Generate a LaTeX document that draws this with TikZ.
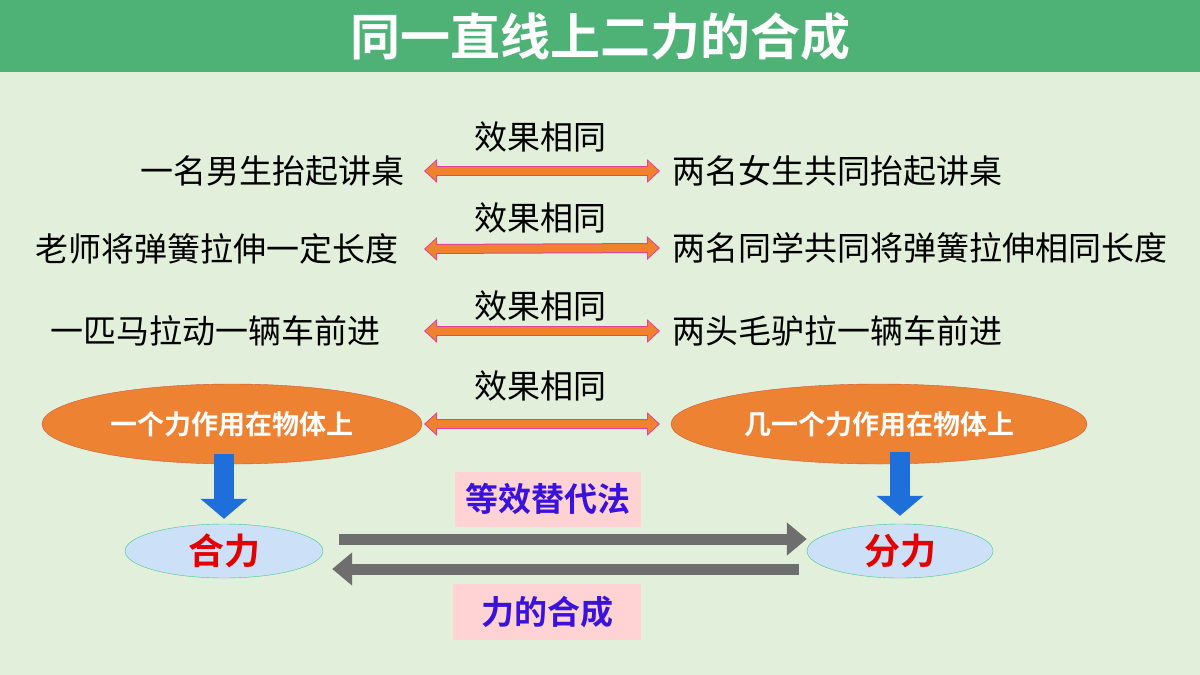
\documentclass[tikz,border=0pt]{standalone}
\usepackage{fontspec}
\setmainfont{Noto Sans CJK SC}[BoldFont={Noto Sans CJK SC Bold}]
\usetikzlibrary{shapes.geometric,arrows.meta}

\definecolor{bggreen}{HTML}{E2EFDA}
\definecolor{bargreen}{HTML}{4EB277}
\definecolor{effectfill}{HTML}{F0822E}
\definecolor{effectline}{HTML}{E040A0}
\definecolor{ovalorange}{HTML}{EE8233}
\definecolor{ovalline}{HTML}{D0583A}
\definecolor{downblue}{HTML}{1E6FD9}
\definecolor{paleblue}{HTML}{CCE0F7}
\definecolor{ovalgreen}{HTML}{3CCB8A}
\definecolor{methodpink}{HTML}{FFD3D3}
\definecolor{methodblue}{HTML}{3A12DE}
\definecolor{arrowgray}{HTML}{6E6E6E}

\newcommand{\bodysize}{\fontsize{33}{38}\selectfont}

\tikzset{
  caseText/.style={font=\bodysize, inner sep=0pt, anchor=west},
  sameText/.style={font=\bodysize, inner sep=0pt},
  bigOval/.style={ellipse, fill=ovalorange, draw=ovalline, thin, minimum height=80pt,
    text=white, font=\fontsize{27}{30}\selectfont\bfseries, inner sep=0pt},
  smallOval/.style={ellipse, fill=paleblue, draw=ovalgreen, thin, minimum width=196pt,
    minimum height=54pt, text=red!90!black, font=\fontsize{36}{40}\selectfont\bfseries, inner sep=0pt},
  methodBox/.style={fill=methodpink, text=methodblue, font=\fontsize{33}{38}\selectfont\bfseries,
    minimum width=186pt, minimum height=55pt, inner sep=0pt},
  sameArrow/.style={draw=effectline, line width=10pt,
    {Triangle[length=13pt,width=23pt]}-{Triangle[length=13pt,width=23pt]},
    postaction={draw=effectfill, line width=8pt, shorten <=1.6pt, shorten >=1.6pt,
      {Triangle[length=10.5pt,width=19pt]}-{Triangle[length=10.5pt,width=19pt]}}},
  downArrow/.style={draw=downblue, line width=20pt, -{Triangle[length=20pt,width=46pt]}},
  grayArrow/.style={draw=arrowgray, line width=11pt, -{Triangle[length=20pt,width=32pt]}}
}

\begin{document}
\begin{tikzpicture}[x=1pt, y=-1pt]
  % ==================== 背景与标题 ====================
  \fill[bggreen] (0,0) rectangle (1200,675);
  \useasboundingbox (0,0) rectangle (1200,675);
  \fill[bargreen] (0,0) rectangle (1200,72);
  \node[text=white, font=\fontsize{50}{56}\selectfont\bfseries] (title) at (600,37) {同一直线上二力的合成};

  % 箭头端点
  \coordinate (lx) at (424,0);
  \coordinate (rx) at (660,0);

  % ==================== 三个实例 ====================
  \node[caseText] (l1) at (140,171) {一名男生抬起讲桌};
  \node[caseText] (r1) at (672,171) {两名女生共同抬起讲桌};
  \node[sameText] (e1) at (540,137) {效果相同};

  \node[caseText] (l2) at (35,249) {老师将弹簧拉伸一定长度};
  \node[caseText] (r2) at (672,248) {两名同学共同将弹簧拉伸相同长度};
  \node[sameText] (e2) at (540,218) {效果相同};

  \node[caseText] (l3) at (50,331) {一匹马拉动一辆车前进};
  \node[caseText] (r3) at (672,331) {两头毛驴拉一辆车前进};
  \node[sameText] (e3) at (540,306) {效果相同};

  \draw[sameArrow] (l1.east -| lx) -- (r1.west -| rx);
  \draw[sameArrow] (l2.east -| lx) -- (r2.west -| rx);
  \draw[sameArrow] (l3.east -| lx) -- (r3.west -| rx);

  % ==================== 作用效果 ====================
  \node[bigOval, minimum width=380pt] (o1) at (232,424) {一个力作用在物体上};
  \node[bigOval, minimum width=416pt] (o2) at (879,424) {几一个力作用在物体上};
  \node[sameText] (e4) at (540,386) {效果相同};
  \draw[sameArrow] (o1.east -| lx) -- (o2.west -| rx);

  % ==================== 合力与分力 ====================
  \node[smallOval, minimum width=198pt] (h1) at (224,551) {合力};
  \node[smallOval, minimum width=186pt] (f1) at (900,551) {分力};

  \draw[downArrow, shorten <=-10pt, shorten >=5pt] (o1.south -| h1.north) -- (h1.north);
  \draw[downArrow, shorten <=-12pt, shorten >=8pt] (o2.south -| f1.north) -- (f1.north);

  \draw[grayArrow, shorten <=16pt] ([yshift=12pt]h1.east) -- ([yshift=12pt]f1.west);
  \draw[grayArrow, shorten <=8pt, shorten >=9pt] ([yshift=-18pt]f1.west) -- ([yshift=-18pt]h1.east);

  \node[methodBox] (m1) at (548,499) {等效替代法};
  \node[methodBox, minimum width=188pt, minimum height=56pt] (m2) at (547,612) {力的合成};
\end{tikzpicture}
\end{document}
